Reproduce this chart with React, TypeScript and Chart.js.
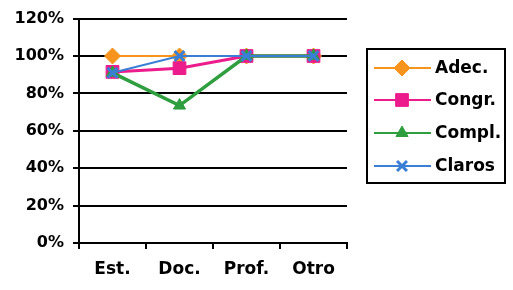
import React, { useEffect, useRef } from "react";
import { Chart, registerables } from "chart.js";
import { drawPoint } from "chart.js/helpers";

Chart.register(...registerables);

const categories = ["Est.", "Doc.", "Prof.", "Otro"];
const adec = [100, 100, 100, 100];
const congr = [91.5, 93.5, 100, 100];
const compl = [91, 73.5, 100, 100];
const claros = [91, 100, 100, 100];
const yTicks = [0, 20, 40, 60, 80, 100, 120];

const FONT = "'DejaVu Sans', Arial, sans-serif";

const legendPlugin = {
  id: "boxLegend",
  afterDraw(chart: any) {
    const ctx = chart.ctx;
    const x0 = 367, y0 = 49, w = 138, h = 134;
    ctx.save();
    ctx.strokeStyle = "#000";
    ctx.lineWidth = 2;
    ctx.strokeRect(x0, y0, w, h);
    const ys = [68, 100, 133, 166];
    chart.data.datasets.forEach((ds: any, i: number) => {
      const y = ys[i];
      ctx.strokeStyle = ds.borderColor;
      ctx.lineWidth = 2;
      ctx.beginPath();
      ctx.moveTo(374, y);
      ctx.lineTo(431, y);
      ctx.stroke();
      const meta = chart.getDatasetMeta(i);
      const el = meta.data[0];
      if (el) {
        ctx.fillStyle = ds.pointBackgroundColor;
        ctx.strokeStyle = ds.pointBorderColor;
        ctx.lineWidth = ds.pointBorderWidth;
        drawPoint(ctx, el.options, 402, y);
      }
      ctx.fillStyle = "#000";
      ctx.font = `bold 17px ${FONT}`;
      ctx.textBaseline = "middle";
      ctx.textAlign = "left";
      ctx.fillText(ds.label, 435, y + 1);
    });
    ctx.restore();
  },
};

export default function App() {
  const ref = useRef<HTMLCanvasElement>(null);
  useEffect(() => {
    if (!ref.current) return;
    const mk = (label: string, data: number[], color: string, style: string, r: number, bw: number, order: number) => ({
      label,
      data,
      borderColor: color,
      backgroundColor: color,
      pointBackgroundColor: color,
      pointBorderColor: color,
      pointStyle: style,
      pointRadius: r,
      pointBorderWidth: style === "crossRot" ? 3 : 1,
      borderWidth: bw,
      tension: 0,
      order,
    });
    const chart = new Chart(ref.current, {
      type: "line",
      data: {
        labels: categories,
        datasets: [
          mk("Adec.", adec, "#F7941D", "rectRot", 8, 2, 4),
          mk("Congr.", congr, "#EC1C8C", "rect", 9, 3, 3),
          mk("Compl.", compl, "#2E9E3E", "triangle", 7, 3.5, 2),
          mk("Claros", claros, "#3A7FD5", "crossRot", 7, 2, 1),
        ] as any,
      },
      options: {
        animation: false,
        responsive: false,
        maintainAspectRatio: false,
        layout: { padding: { top: 16, right: 166, left: 0, bottom: 0 } },
        plugins: { legend: { display: false }, tooltip: { enabled: false } },
        scales: {
          x: {
            offset: true,
            afterFit: (s: any) => { s.height = 47; },
            grid: { offset: true, drawOnChartArea: false, drawTicks: true, tickLength: 6, color: "#000", lineWidth: 2 },
            border: { color: "#000", width: 2 },
            ticks: { color: "#000", font: { family: FONT, size: 17, weight: "bold" }, padding: 10 },
          },
          y: {
            min: 0,
            max: 120,
            afterFit: (s: any) => { s.width = 79; },
            afterBuildTicks: (s: any) => { s.ticks = yTicks.map((v) => ({ value: v })); },
            grid: { color: "#000", lineWidth: 2, tickLength: 6 },
            border: { color: "#000", width: 2 },
            ticks: {
              color: "#000",
              font: { family: FONT, size: 16, weight: "bold" },
              padding: 9,
              callback: (v: any) => `${v}%`,
            },
          },
        },
      },
      plugins: [legendPlugin],
    });
    return () => chart.destroy();
  }, []);
  return (
    <div style={{ position: "fixed", left: 0, top: 0, width: 513, height: 290, background: "#fff" }}>
      <canvas ref={ref} width={513} height={290} style={{ width: 513, height: 290 }} />
    </div>
  );
}
